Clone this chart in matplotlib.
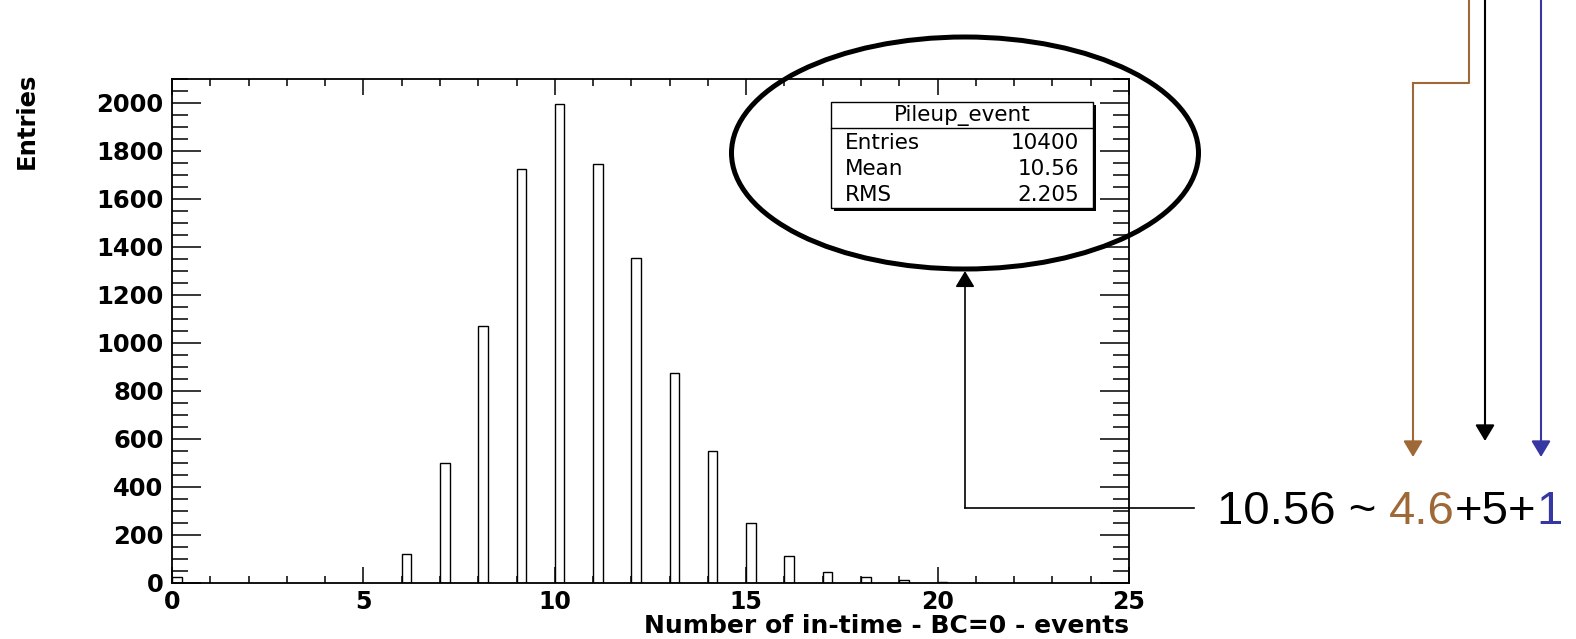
import matplotlib
matplotlib.use("Agg")
import matplotlib.pyplot as plt
from matplotlib.patches import Ellipse, Rectangle
from matplotlib.ticker import MultipleLocator

# ---------------------------------------------------------------- data
bin_lo = [0, 6, 7, 8, 9, 10, 11, 12, 13, 14, 15, 16, 17, 18, 19, 20, 21]
counts = [25, 122, 501, 1071, 1724, 1996, 1747, 1354, 875, 550, 251, 112, 46, 25, 11, 4, 2]

stats_name = "Pileup_event"
stats_labels = ["Entries", "Mean", "RMS"]
stats_values = ["10400", "10.56", "2.205"]

xlabel = "Number of in-time - BC=0 - events"
ylabel = "Entries"

# the formula under the arrows: (text, colour)
formula_parts = [("10.56 ~", "black"), ("4.6", "#9E6936"), ("+5+", "black"), ("1", "#3737A3")]

W, H = 1576, 639
BROWN = "#9E6936"
BLUE = "#3737A3"

fig = plt.figure(figsize=(W / 100, H / 100), dpi=100)
fig.patch.set_facecolor("white")

# ---------------------------------------------------------------- histogram
ax = fig.add_axes([172 / W, 1 - 583 / H, (1129 - 172) / W, (583 - 79) / H])
ax.bar(bin_lo, counts, width=0.25, align="edge", facecolor="white",
       edgecolor="black", linewidth=1.0)
ax.set_xlim(0, 25)
ax.set_ylim(0, 2100)

ax.xaxis.set_major_locator(MultipleLocator(5))
ax.xaxis.set_minor_locator(MultipleLocator(1))
ax.yaxis.set_major_locator(MultipleLocator(200))
ax.yaxis.set_minor_locator(MultipleLocator(50))
ax.set_yticks(range(0, 2001, 200))

ax.tick_params(which="both", direction="in", top=True, right=True, width=1.1)
ax.tick_params(axis="x", which="major", length=11.5, pad=5, labelsize=17)
ax.tick_params(axis="x", which="minor", length=5)
ax.tick_params(axis="y", which="major", length=21, pad=6, labelsize=17.5)
ax.tick_params(axis="y", which="minor", length=11.5)
for lab in ax.get_xticklabels() + ax.get_yticklabels():
    lab.set_fontweight("bold")
for sp in ax.spines.values():
    sp.set_linewidth(1.3)

ax.set_xlabel(xlabel, fontsize=18, fontweight="bold", loc="right")
ax.xaxis.label.set_va("baseline")
ax.xaxis.set_label_coords(1.0, -0.0985)
ax.set_ylabel(ylabel, fontsize=17.5, fontweight="bold")
ax.yaxis.set_label_coords(-0.139, 0.918)

# ---------------------------------------------------------------- overlay (pixel coords)
ov = fig.add_axes([0, 0, 1, 1])
ov.set_xlim(0, W)
ov.set_ylim(H, 0)
ov.axis("off")

# stats box with shadow
ov.add_patch(Rectangle((834, 105), 262, 106, facecolor="black", edgecolor="none"))
ov.add_patch(Rectangle((831, 102), 262, 106, facecolor="white", edgecolor="black", lw=1.0))
ov.plot([831, 1093], [128, 128], color="black", lw=1.0)
ov.text(962, 116, stats_name, ha="center", va="center", fontsize=15.5)
for i, (lab, val) in enumerate(zip(stats_labels, stats_values)):
    y = 143 + i * 26
    ov.text(845, y, lab, ha="left", va="center", fontsize=15.5)
    ov.text(1079, y, val, ha="right", va="center", fontsize=15.5)

# big ellipse round the stats box
ov.add_patch(Ellipse((965, 153), 467, 232, fill=False, edgecolor="black", lw=3.6))

# arrow from the formula to the ellipse
ov.plot([1194, 965], [508, 508], color="black", lw=1.2)
head = "-|>,head_length=0.7,head_width=0.42"
ov.annotate("", xy=(965, 271), xytext=(965, 508),
            arrowprops=dict(arrowstyle=head, color="black", lw=1.2,
                            shrinkA=0, shrinkB=0, mutation_scale=14))

# three arrows coming down from above
ov.plot([1469, 1469, 1413], [0, 83, 83], color=BROWN, lw=1.5)
ov.annotate("", xy=(1413, 457), xytext=(1413, 83),
            arrowprops=dict(arrowstyle=head, color=BROWN, lw=1.5,
                            shrinkA=0, shrinkB=0, mutation_scale=14))
ov.annotate("", xy=(1485, 441), xytext=(1485, 0),
            arrowprops=dict(arrowstyle=head, color="black", lw=1.5,
                            shrinkA=0, shrinkB=0, mutation_scale=14))
ov.annotate("", xy=(1541, 457), xytext=(1541, 0),
            arrowprops=dict(arrowstyle=head, color=BLUE, lw=1.5,
                            shrinkA=0, shrinkB=0, mutation_scale=14))

# formula text, pieces chained one after another
txt_kw = dict(fontsize=34, family=["Liberation Sans", "DejaVu Sans"])
prev = ov.text(1217, 524, formula_parts[0][0], color=formula_parts[0][1],
               ha="left", va="baseline", **txt_kw)
for k, (s, c) in enumerate(formula_parts[1:]):
    gap = 13 if k == 0 else 0
    prev = ov.annotate(s, xy=(1, 0), xycoords=prev, xytext=(gap, 0),
                       textcoords="offset pixels", color=c,
                       ha="left", va="bottom", **txt_kw)

fig.savefig("out.png", dpi=100, facecolor="white")
